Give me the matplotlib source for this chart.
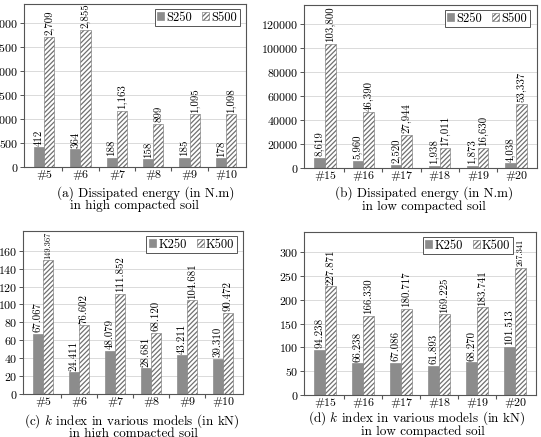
import matplotlib.pyplot as plt
import numpy as np

plt.rcParams['font.family'] = ['cmr10', 'DejaVu Serif']
plt.rcParams['mathtext.fontset'] = 'cm'
plt.rcParams['axes.formatter.use_mathtext'] = True
plt.rcParams['hatch.linewidth'] = 0.9

models_high = ['#5', '#6', '#7', '#8', '#9', '#10']
models_low = ['#15', '#16', '#17', '#18', '#19', '#20']

energy_high_250 = [412, 364, 188, 158, 185, 178]
energy_high_500 = [2709, 2855, 1163, 899, 1095, 1098]
energy_low_250 = [8619, 5960, 2520, 1938, 1873, 4038]
energy_low_500 = [103800, 46390, 27944, 17011, 16630, 53337]

k_high_250 = [67.067, 24.411, 48.079, 28.681, 43.211, 39.310]
k_high_500 = [149.367, 76.602, 111.852, 68.120, 104.681, 90.472]
k_low_250 = [94.238, 66.238, 67.086, 61.893, 68.270, 101.513]
k_low_500 = [227.871, 166.330, 180.717, 169.225, 183.741, 267.341]

W, H = 541, 437
fig = plt.figure(figsize=(W / 100, H / 100), dpi=100)


def px_axes(l, t, r, b):
    return fig.add_axes([l / W, 1 - b / H, (r - l) / W, (b - t) / H])


def panel(ax, cats, v1, v2, labels, ylim, yticks, fmt, leg_gap=6, shrink_max=False):
    x = np.arange(len(cats))
    w = 0.28
    ax.set_axisbelow(True)
    ax.yaxis.grid(True, color='#d4d4d4', lw=0.6)
    ax.bar(x - w / 2, v1, w, color='#8c8c8c', edgecolor='#8c8c8c', lw=0.5, label=labels[0])
    ax.bar(x + w / 2, v2, w, color='white', edgecolor='#707070', hatch='///////', lw=0.4, label=labels[1])
    vmax = max(v2)
    for xi, a, b in zip(x, v1, v2):
        ax.text(xi - w / 2, a + ylim * 0.01, fmt(a), rotation=90, ha='center', va='bottom', fontsize=7.8)
        fs = 6 if (shrink_max and b == vmax) else 7.8
        ax.text(xi + w / 2, b + ylim * 0.01, fmt(b), rotation=90, ha='center', va='bottom', fontsize=fs)
    ax.set_xlim(-0.55, len(cats) - 0.45)
    ax.set_ylim(0, ylim)
    ax.set_yticks(yticks)
    ax.set_xticks(x)
    ax.set_xticklabels(cats)
    ax.set_xticks(np.arange(len(cats) - 1) + 0.5, minor=True)
    ax.tick_params(axis='x', which='major', length=0, labelsize=8.6, pad=2.5)
    ax.tick_params(axis='x', which='minor', length=3, width=0.8, color='#555555')
    ax.tick_params(axis='y', labelsize=8.6, length=3, width=0.7, color='#555555', pad=1)
    for s in ax.spines.values():
        s.set_color('#555555')
        s.set_linewidth(0.8)
    bbox = ax.get_position()
    anchor_x = 1 - leg_gap / (bbox.width * W)
    anchor_y = 1 - 5 / (bbox.height * H)
    leg = ax.legend(loc='upper right', bbox_to_anchor=(anchor_x, anchor_y), ncol=2, fontsize=9,
                    handlelength=0.55, handleheight=0.55, handletextpad=0.2, columnspacing=0.8,
                    borderpad=0.2, borderaxespad=0, fancybox=False, framealpha=1)
    leg.get_frame().set_edgecolor('#555555')
    leg.get_frame().set_linewidth(0.7)


def comma(v):
    return f'{v:,.0f}'


def dec(v):
    return f'{v:.3f}'


ax_a = px_axes(24, 4, 246, 167)
panel(ax_a, models_high, energy_high_250, energy_high_500, ['S250', 'S500'],
      3390, range(0, 3001, 500), comma)
ax_b = px_axes(304, 5, 537, 168)
panel(ax_b, models_low, energy_low_250, energy_low_500, ['S250', 'S500'],
      136000, range(0, 120001, 20000), comma, leg_gap=7)
ax_c = px_axes(23, 231, 243, 394)
panel(ax_c, models_high, k_high_250, k_high_500, ['K250', 'K500'],
      182, range(0, 161, 20), dec, shrink_max=True)
ax_d = px_axes(304, 232, 536, 395)
panel(ax_d, models_low, k_low_250, k_low_500, ['K250', 'K500'],
      342, range(0, 301, 50), dec, leg_gap=23, shrink_max=True)

captions = [
    ('(a) Dissipated energy (in N.m)', 146, 193), ('in high compacted soil', 134, 206),
    ('(b) Dissipated energy (in N.m)', 424, 193), ('in low compacted soil', 424, 207),
    ('(c) $k$ index in various models (in kN)', 132, 421), ('in high compacted soil', 133, 434),
    ('(d) $k$ index in various models (in kN)', 417, 418), ('in low compacted soil', 423, 432),
]
for txt, cx, cy in captions:
    fig.text(cx / W, 1 - cy / H, txt, ha='center', va='center', fontsize=9.5)

fig.savefig('out.png', dpi=100)
